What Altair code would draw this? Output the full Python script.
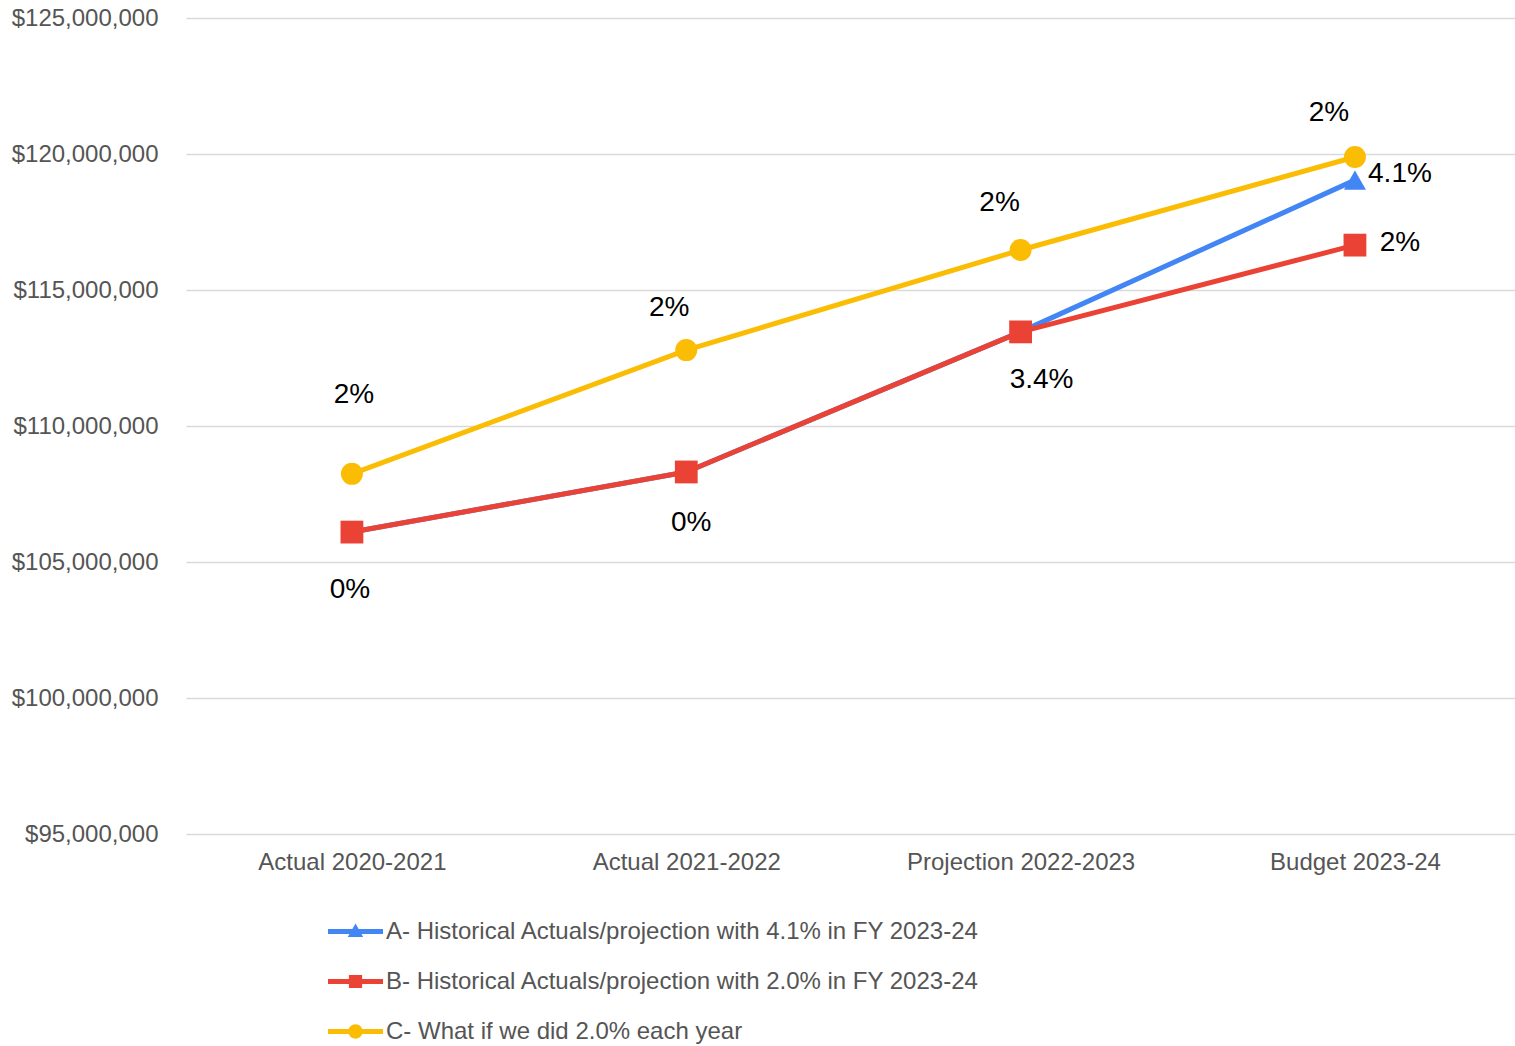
import altair as alt
import pandas as pd

# ---------------- data ----------------
categories = ["Actual 2020-2021", "Actual 2021-2022", "Projection 2022-2023", "Budget 2023-24"]
series_keys = ["A", "B", "C"]
series_names = [
    "A- Historical Actuals/projection with 4.1% in FY 2023-24",
    "B- Historical Actuals/projection with 2.0% in FY 2023-24",
    "C- What if we did 2.0% each year",
]
values_A = [106100000, 108310000, 113460000, 119040000]
values_B = [106100000, 108310000, 113460000, 116650000]
values_C = [108240000, 112790000, 116470000, 119890000]
labels_A = ["", "", "", "4.1%"]
labels_B = ["0%", "0%", "3.4%", "2%"]
labels_C = ["2%", "2%", "2%", "2%"]
y_ticks = [95000000, 100000000, 105000000, 110000000, 115000000, 120000000, 125000000]

# ---------------- style ----------------
FONT = "Liberation Sans"
colors = {"A": "#4285F4", "B": "#EA4335", "C": "#FBBC04"}
shapes = {"A": "triangle-up", "B": "square", "C": "circle"}
sizes = {"A": 484, "B": 520, "C": 484}
# label offsets (dx, dy) in pixels, per series / category index
label_style = {
    ("C", 0): (2, -79), ("C", 1): (-17, -42), ("C", 2): (-21, -47), ("C", 3): (-26, -44),
    ("B", 0): (-2, 58), ("B", 1): (5, 51), ("B", 2): (21, 48), ("B", 3): (45, -2),
    ("A", 3): (45, -6),
}
bar = "M-1,-0.09 L1,-0.09 L1,0.09 L-1,0.09 Z "
legend_paths = [
    bar + "M0,-0.29 L0.28,0.2 L-0.28,0.2 Z",
    bar + "M-0.24,-0.24 L0.24,-0.24 L0.24,0.24 L-0.24,0.24 Z",
    bar + "M-0.26,0 A0.26,0.26 0 1,1 0.26,0 A0.26,0.26 0 1,1 -0.26,0 Z",
]

rows = []
for key, name, vals, labs in zip(series_keys, series_names,
                                 [values_A, values_B, values_C],
                                 [labels_A, labels_B, labels_C]):
    for i, (c, v, l) in enumerate(zip(categories, vals, labs)):
        rows.append({"key": key, "series": name, "category": c, "value": v, "label": l, "idx": i})
df = pd.DataFrame(rows)

x_enc = alt.X(
    "category:N", sort=categories,
    scale=alt.Scale(type="point", padding=0.4875, align=0.509),
    axis=alt.Axis(title=None, labelAngle=0, domain=False, ticks=False, grid=False,
                  labelPadding=16, labelFontSize=24, labelColor="#555555", labelFont=FONT,
                  labelLimit=1000),
)
y_enc = alt.Y(
    "value:Q",
    scale=alt.Scale(domain=[95000000, 125000000], nice=False, zero=False),
    axis=alt.Axis(title=None, values=y_ticks, format="$,.0f", domain=False, ticks=False,
                  labelPadding=28, labelFontSize=24, labelColor="#555555", labelFont=FONT,
                  gridColor="#d9d9d9", gridWidth=1.5, labelLimit=1000),
)

base = alt.Chart(df)

# layer with no rows that only provides the legend (domain is explicit)
legend_layer = base.transform_filter(alt.datum.idx < 0).mark_point(
    filled=True, opacity=1, size=3025, strokeWidth=0
).encode(
    x=x_enc, y=y_enc,
    color=alt.Color("series:N", scale=alt.Scale(domain=series_names, range=[colors[k] for k in series_keys]),
                    legend=alt.Legend(title=None, orient="none", legendX=142, legendY=886,
                                      direction="vertical", labelFontSize=24, labelColor="#555555",
                                      labelFont=FONT, symbolSize=3025, symbolOpacity=1,
                                      symbolStrokeWidth=0, rowPadding=10, labelOffset=3,
                                      padding=0, labelLimit=1000)),
    shape=alt.Shape("series:N", scale=alt.Scale(domain=series_names, range=legend_paths)),
)

layers = [legend_layer]
for k in series_keys:
    sub = base.transform_filter(alt.datum.key == k)
    layers.append(sub.mark_line(color=colors[k], strokeWidth=5, strokeJoin="round").encode(x=x_enc, y=y_enc))
    layers.append(sub.mark_point(filled=True, opacity=1, shape=shapes[k], size=sizes[k],
                                 color=colors[k], strokeWidth=0).encode(x=x_enc, y=y_enc))

for (k, i), (dx, dy) in label_style.items():
    layers.append(
        base.transform_filter((alt.datum.key == k) & (alt.datum.idx == i))
        .mark_text(font=FONT, fontSize=28, color="#000000", dx=dx, dy=dy,
                   align="center", baseline="middle")
        .encode(x=x_enc, y=y_enc, text="label:N")
    )

chart = alt.layer(*layers).properties(
    width=1329, height=816,
    padding={"left": 186, "top": 18, "right": 0, "bottom": 212},
    autosize=alt.AutoSizeParams(type="none"),
    background="#ffffff",
).configure_view(stroke=None)

chart.save("out.html", embed_options={"renderer": "svg", "actions": False})
